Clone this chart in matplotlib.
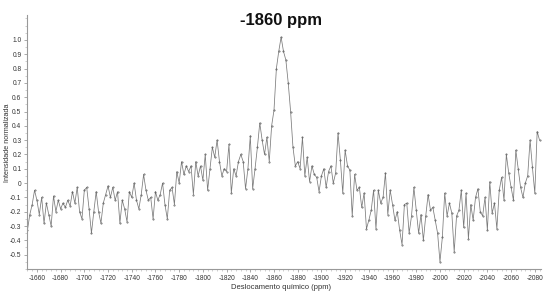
import numpy as np
import matplotlib
matplotlib.use("Agg")
import matplotlib.pyplot as plt
from matplotlib.ticker import MultipleLocator, FuncFormatter

plt.rcParams['font.family'] = ['Liberation Sans', 'DejaVu Sans']

# deslocamento quimico (ppm), passo de 2 ppm
ppm = np.arange(-1652, -2086, -2)

# intensidade normalizada
intens = [
    -0.33, -0.22, -0.15, -0.05, -0.12, -0.22, -0.10, -0.28, -0.14, -0.22,
    -0.30, -0.09, -0.20, -0.12, -0.18, -0.14, -0.17, -0.12, -0.16, -0.06,
    -0.14, -0.03, -0.20, -0.25, -0.05, -0.03, -0.18, -0.35, -0.20, -0.06,
    -0.20, -0.28, -0.14, -0.08, -0.02, -0.10, -0.03, -0.12, -0.06, -0.28,
    -0.12, -0.18, -0.27, -0.06, -0.10, 0.00, -0.12, -0.18, -0.08, 0.06,
    -0.05, -0.12, -0.10, -0.25, -0.06, -0.12, -0.08, 0.00, -0.15, -0.25,
    -0.05, -0.03, -0.15, 0.08, 0.00, 0.15, 0.06, 0.12, 0.08, 0.12,
    -0.08, 0.15, 0.05, 0.12, 0.02, 0.20, -0.05, 0.10, 0.25, 0.18,
    0.30, 0.15, 0.05, 0.10, 0.08, 0.27, -0.07, 0.10, 0.05, 0.15,
    0.20, 0.15, -0.04, 0.10, 0.33, -0.04, 0.10, 0.25, 0.42, 0.30,
    0.20, 0.32, 0.15, 0.40, 0.51, 0.80, 0.92, 1.02, 0.92, 0.86,
    0.70, 0.50, 0.25, 0.12, 0.15, 0.10, 0.32, 0.05, 0.18, 0.01,
    0.12, 0.06, 0.04, -0.06, 0.05, 0.10, -0.03, 0.08, 0.12, 0.00,
    0.07, 0.35, 0.16, -0.07, 0.23, 0.12, 0.09, -0.23, 0.06, -0.05,
    -0.03, -0.17, -0.07, -0.32, -0.26, -0.19, -0.05, -0.32, -0.05, -0.14,
    -0.10, 0.07, -0.22, -0.05, -0.15, -0.26, -0.20, -0.33, -0.43, -0.15,
    -0.14, -0.35, -0.23, -0.03, -0.19, -0.35, -0.22, -0.40, -0.23, -0.08,
    -0.19, -0.17, -0.26, -0.35, -0.55, -0.38, -0.07, -0.23, -0.14, -0.21,
    -0.48, -0.23, -0.19, -0.05, -0.31, -0.07, -0.39, -0.15, -0.26, -0.10,
    -0.04, -0.20, -0.23, -0.10, -0.33, 0.01, -0.21, -0.14, -0.32, -0.05,
    0.04, -0.12, 0.20, 0.07, -0.03, -0.12, 0.23, 0.10, -0.03, -0.10,
    0.00, 0.05, 0.30, 0.11, -0.07, 0.36, 0.30,
]

fig = plt.figure(figsize=(5.5, 2.98), dpi=100)
ax = fig.add_axes([0.049, 0.097, 0.935, 0.853])

ax.plot(ppm, intens, color='#7a7a7a', lw=0.55, marker='.', ms=0.8,
        mec='#555555', mfc='#555555')

ax.set_xlim(-1651.6, -2085.4)
ax.set_ylim(-0.601, 1.175)

for s in ['top', 'right']:
    ax.spines[s].set_visible(False)
for s in ['left', 'bottom']:
    ax.spines[s].set_color('#999999')
    ax.spines[s].set_linewidth(0.8)

ax.set_xticks(np.arange(-1660, -2081, -20))
ax.xaxis.set_minor_locator(MultipleLocator(4))
ax.set_yticks(np.round(np.arange(-0.5, 1.01, 0.1), 1))
ax.yaxis.set_minor_locator(MultipleLocator(0.05))
ax.yaxis.set_major_formatter(FuncFormatter(lambda v, p: '0' if abs(v) < 1e-9 else f'{v:.1f}'))
ax.xaxis.set_major_formatter(FuncFormatter(lambda v, p: f'{v:.0f}'))

ax.tick_params(which='major', length=2.5, width=0.5, color='#888888',
               labelsize=4.8, labelcolor='#333333', pad=1.5)
ax.tick_params(which='minor', length=1.5, width=0.4, color='#aaaaaa')

fig.text(0.511, 0.93, '-1860 ppm', ha='center', va='center',
         fontsize=12, fontweight='bold', color='#111111')
fig.text(0.013, 0.52, 'Intensidade normalizada', rotation=90,
         ha='center', va='center', fontsize=5.2, color='#333333')
fig.text(0.511, 0.034, 'Deslocamento químico (ppm)', ha='center',
         va='center', fontsize=5.5, color='#333333')

fig.savefig('out.png', dpi=100)
